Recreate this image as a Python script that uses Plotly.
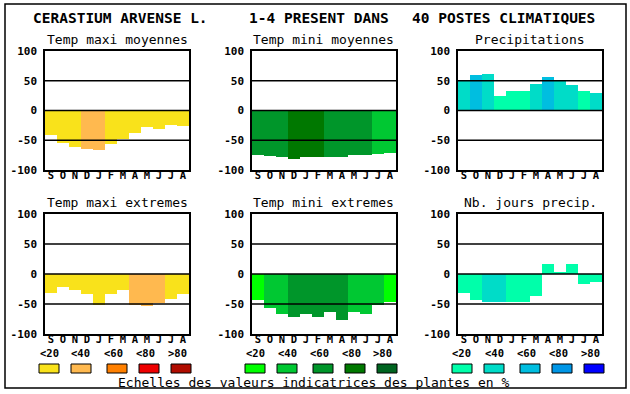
import plotly.graph_objects as go

W, H = 630, 394

# ---------------- data ----------------
month_labels = ["S", "O", "N", "D", "J", "F", "M", "A", "M", "J", "J", "A"]
y_ticks = [-100, -50, 0, 50, 100]
y_ticktext = ["-100", "-50", "0", "50", "100"]

tmax_moy = [-42, -54, -61, -65, -66, -56, -48, -38, -28, -31, -25, -26]
tmax_moy_cls = [0, 0, 0, 1, 1, 0, 0, 0, 0, 0, 0, 0]
tmin_moy = [-74, -76, -78, -81, -78, -78, -78, -78, -74, -74, -73, -71]
tmin_moy_cls = [2, 2, 2, 3, 3, 3, 2, 2, 2, 2, 1, 1]
precip = [52, 60, 62, 25, 32, 33, 45, 57, 52, 43, 32, 30]
precip_cls = [1, 2, 1, 0, 0, 0, 1, 2, 1, 1, 0, 1]
tmax_ext = [-32, -21, -26, -34, -52, -34, -26, -52, -54, -49, -42, -34]
tmax_ext_cls = [0, 0, 0, 0, 0, 0, 0, 1, 1, 1, 0, 0]
tmin_ext = [-44, -57, -67, -72, -66, -71, -64, -76, -64, -67, -52, -47]
tmin_ext_cls = [0, 1, 1, 2, 2, 2, 2, 2, 1, 1, 1, 0]
njours = [-32, -44, -47, -47, -46, -46, -37, 17, 4, 17, -17, -14]
njours_cls = [0, 0, 1, 1, 0, 0, 0, 0, 0, 0, 0, 0]

panel_titles = ["Temp maxi moyennes", "Temp mini moyennes", "Precipitations",
                "Temp maxi extremes", "Temp mini extremes", "Nb. jours precip."]
legend_labels = ["<20", "<40", "<60", "<80", ">80"]

title_parts = ["CERASTIUM ARVENSE L.", "1-4 PRESENT DANS", "40 POSTES CLIMATIQUES"]
footer = "Echelles des valeurs indicatrices des plantes en %"

# ---------------- styles ----------------
yellow_pal = ["#F9E21B", "#FFB94F", "#FF8000", "#EE0000", "#B00C00"]
green_pal = ["#00FF00", "#00C832", "#00962A", "#007800", "#006420"]
blue_pal = ["#00FFAA", "#00DCC8", "#00BEE0", "#0096E6", "#0000FF"]

MONO = "DejaVu Sans Mono"

panels = [
    (tmax_moy, tmax_moy_cls, yellow_pal),
    (tmin_moy, tmin_moy_cls, green_pal),
    (precip, precip_cls, blue_pal),
    (tmax_ext, tmax_ext_cls, yellow_pal),
    (tmin_ext, tmin_ext_cls, green_pal),
    (njours, njours_cls, blue_pal),
]

cols_px = [(45, 189), (252, 396), (458, 602)]
rows_px = [(51, 170), (214, 334)]


def px(x):
    return x / W


def py(y):
    return 1 - y / H


fig = go.Figure()
shapes = []
annotations = []
layout_axes = {}

for i, (vals, cls, pal) in enumerate(panels):
    r, c = divmod(i, 3)
    n = i + 1
    xa = "x" if n == 1 else f"x{n}"
    ya = "y" if n == 1 else f"y{n}"
    fig.add_trace(go.Bar(
        x=list(range(len(vals))), y=vals,
        marker=dict(color=[pal[k] for k in cls], line=dict(width=0)),
        xaxis=xa, yaxis=ya, showlegend=False, hoverinfo="skip",
    ))
    l, rr = cols_px[c]
    t, b = rows_px[r]
    axis_common = dict(showline=True, linecolor="black", linewidth=1.5, mirror=True,
                       showgrid=False, zeroline=False, ticks="", automargin=False)
    layout_axes["xaxis" if n == 1 else f"xaxis{n}"] = dict(
        domain=[px(l), px(rr)], anchor=ya, range=[-0.5, 11.5],
        tickmode="array", tickvals=list(range(12)), ticktext=month_labels,
        ticklabelstandoff=-5,
        tickfont=dict(family=MONO, size=10.5, color="black", weight="bold"),
        **axis_common)
    layout_axes["yaxis" if n == 1 else f"yaxis{n}"] = dict(
        domain=[py(b), py(t)], anchor=xa, range=[-100, 100],
        tickmode="array", tickvals=y_ticks, ticktext=y_ticktext,
        ticklabelstandoff=4,
        tickfont=dict(family=MONO, size=11, color="black", weight="bold"),
        **axis_common)
    for gv in [50, 0, -50]:
        shapes.append(dict(type="line", xref=f"{xa} domain", x0=0, x1=1,
                           yref=ya, y0=gv, y1=gv, layer="above",
                           line=dict(color="black", width=1.5)))
    annotations.append(dict(text=panel_titles[i], xref="paper", yref="paper",
                            x=px((l + rr) / 2), y=py(t - 12), xanchor="center",
                            yanchor="middle", showarrow=False,
                            font=dict(family=MONO, size=13, color="black")))

# outer frame
shapes.append(dict(type="rect", xref="paper", yref="paper",
                   x0=px(5), x1=px(626), y0=py(388), y1=py(4),
                   line=dict(color="black", width=1.5), layer="above"))

# title
title_pos = [(31, "left"), (247, "left"), (597, "right")]
for txt, (x, anc) in zip(title_parts, title_pos):
    annotations.append(dict(text=txt, xref="paper", yref="paper", x=px(x), y=py(18),
                            xanchor=anc, yanchor="middle", showarrow=False,
                            font=dict(family=MONO, size=14.5, color="black", weight="bold")))

# legend scales
group_starts = [39, 245, 452]
box_off = [0, 32, 68, 100, 132]
for g, pal in zip(group_starts, [yellow_pal, green_pal, blue_pal]):
    for k in range(5):
        x0 = g + box_off[k]
        shapes.append(dict(type="rect", xref="paper", yref="paper",
                           x0=px(x0), x1=px(x0 + 20), y0=py(373), y1=py(364),
                           fillcolor=pal[k], line=dict(color="black", width=1)))
        annotations.append(dict(text=legend_labels[k], xref="paper", yref="paper",
                                x=px(g + 10 + 32 * k), y=py(353), xanchor="center",
                                yanchor="middle", showarrow=False,
                                font=dict(family=MONO, size=10.5, color="black", weight="bold")))

annotations.append(dict(text=footer, xref="paper", yref="paper", x=px(314), y=py(382),
                        xanchor="center", yanchor="middle", showarrow=False,
                        font=dict(family=MONO, size=13, color="black")))

fig.update_layout(
    width=W, height=H, margin=dict(l=0, r=0, t=0, b=0, autoexpand=False),
    paper_bgcolor="white", plot_bgcolor="white",
    bargap=0, shapes=shapes, annotations=annotations, **layout_axes,
)

fig.write_html("out.html", config={"displayModeBar": False},
               post_script="document.body.style.margin='0';")
